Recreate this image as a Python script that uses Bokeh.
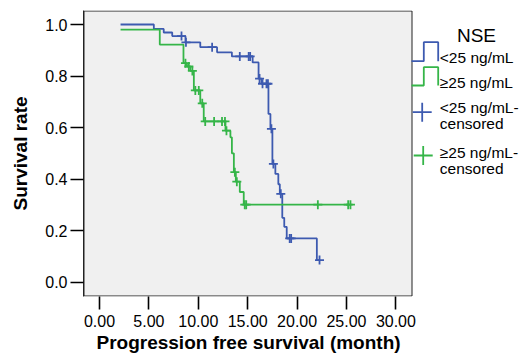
from bokeh.plotting import figure
from bokeh.models import Range1d, FixedTicker, NumeralTickFormatter, Title
from bokeh.core.properties import value
from bokeh.embed import file_html
from bokeh.resources import INLINE

# ---------------- data ----------------
nse_low_time = [2.13, 5.5, 6.5, 7.36, 8.7, 10.2, 11.9, 13.4, 15.5, 16.1, 16.4,
                17.1, 17.3, 17.5, 17.8, 18.1, 18.25, 18.5, 18.7, 18.95, 22.0, 22.27]
nse_low_surv = [1.0, 0.983, 0.969, 0.955, 0.931, 0.912, 0.892, 0.876, 0.853, 0.79, 0.77,
                0.653, 0.595, 0.459, 0.42, 0.38, 0.343, 0.25, 0.215, 0.17, 0.086, 0.086]
nse_low_cens_time = [8.3, 8.75, 11.4, 14.2, 15.1, 15.25, 16.2, 16.5, 16.9, 17.05,
                     17.4, 17.6, 18.35, 19.25, 19.4, 22.27]
nse_low_cens_surv = [0.955, 0.931, 0.912, 0.876, 0.876, 0.876, 0.79, 0.77, 0.77, 0.77,
                     0.595, 0.459, 0.343, 0.17, 0.17, 0.086]

nse_high_time = [2.13, 6.1, 8.5, 8.85, 9.2, 9.55, 10.2, 10.55, 12.75, 13.25, 13.4,
                 13.6, 13.8, 14.2, 14.6, 25.4]
nse_high_surv = [0.98, 0.922, 0.85, 0.837, 0.82, 0.744, 0.694, 0.624, 0.588, 0.562, 0.50,
                 0.427, 0.39, 0.35, 0.301, 0.301]
nse_high_cens_time = [8.7, 9.04, 9.4, 9.7, 10.05, 10.4, 10.7, 11.6, 12.4, 12.7, 12.85,
                      13.7, 13.9, 14.7, 14.85, 22.1, 25.17, 25.4]
nse_high_cens_surv = [0.85, 0.837, 0.82, 0.744, 0.744, 0.694, 0.624, 0.624, 0.624, 0.624, 0.588,
                      0.427, 0.39, 0.301, 0.301, 0.301, 0.301, 0.301]

x_ticks = [0, 5, 10, 15, 20, 25, 30]
y_ticks = [0.0, 0.2, 0.4, 0.6, 0.8, 1.0]

x_title = "Progression free survival (month)"
y_title = "Survival rate"
legend_title = "NSE"
legend_labels = ["<25 ng/mL", "≥25 ng/mL", "<25 ng/mL-", "censored", "≥25 ng/mL-", "censored"]

BLUE = "#3d5ab0"
GREEN = "#35b548"
FONT = value("Liberation Sans")

# pixel -> data helpers (layout only)
def px_x(px):
    return (px - 99.0) / 9.88

def px_y(py):
    return 1.0 - (py - 24.0) / 257.7

p = figure(
    x_range=Range1d(px_x(83), px_x(531)),
    y_range=Range1d(px_y(296), px_y(10)),
    frame_width=448, frame_height=286,
    min_border_left=83, min_border_right=0, min_border_top=10, min_border_bottom=60,
    output_backend="svg", toolbar_location=None,
)
p.background_fill_color = "white"
p.border_fill_color = "white"
p.outline_line_color = None
p.grid.visible = False

# plot frame (grey panel)
p.quad(left=[px_x(83.5)], right=[px_x(411.5)], top=[px_y(10.5)], bottom=[px_y(295.5)],
       fill_color="#f0f0f0", line_color="#222222", line_width=1)

# axes
for ax in (p.xaxis[0], p.yaxis[0]):
    ax.major_tick_out = 13
    ax.major_tick_in = 0
    ax.minor_tick_out = 0
    ax.minor_tick_in = 0
    ax.major_tick_line_color = "black"
    ax.major_tick_line_width = 1.6
    ax.major_label_text_font = "Liberation Sans"
    ax.major_label_text_font_size = "16px"
    ax.major_label_text_color = "black"
    ax.axis_label_text_font = "Liberation Sans"
    ax.axis_label_text_font_style = "bold"
    ax.axis_label_text_font_size = "19px"
    ax.axis_label_text_color = "black"

p.xaxis[0].ticker = FixedTicker(ticks=x_ticks)
p.xaxis[0].formatter = NumeralTickFormatter(format="0.00")
p.xaxis[0].axis_line_color = None
p.xaxis[0].major_label_standoff = 5

p.yaxis[0].ticker = FixedTicker(ticks=y_ticks)
p.yaxis[0].formatter = NumeralTickFormatter(format="0.0")
p.yaxis[0].axis_line_color = "#222222"
p.yaxis[0].major_label_standoff = 3
p.yaxis[0].axis_label = y_title
p.yaxis[0].axis_label_standoff = 11

# x-axis title, placed under the grey panel
p.add_layout(Title(text=x_title, align="left", offset=13, standoff=0,
                   text_font="Liberation Sans", text_font_style="bold",
                   text_font_size="19px", text_color="black"), "below")

# survival curves
p.step(x=nse_low_time, y=nse_low_surv, mode="after", line_color=BLUE, line_width=1.8)
p.step(x=nse_high_time, y=nse_high_surv, mode="after", line_color=GREEN, line_width=1.8)
p.scatter(x=nse_low_cens_time, y=nse_low_cens_surv, marker="cross", size=9,
          line_color=BLUE, line_width=1.8)
p.scatter(x=nse_high_cens_time, y=nse_high_cens_surv, marker="cross", size=9,
          line_color=GREEN, line_width=1.8)

# legend (drawn by hand to the right of the panel)
p.text(x=[px_x(476)], y=[px_y(35)], text=[legend_title], text_font=FONT,
       text_font_size="19px", text_align="center", text_baseline="alphabetic",
       text_color="black")
p.line(x=[px_x(411), px_x(423.3), px_x(423.3), px_x(437.7), px_x(437.7)],
       y=[px_y(60.7), px_y(60.7), px_y(41.7), px_y(41.7), px_y(60.7)],
       line_color=BLUE, line_width=1.8)
p.line(x=[px_x(411), px_x(423.3), px_x(423.3), px_x(437.7), px_x(437.7)],
       y=[px_y(85), px_y(85), px_y(66.7), px_y(66.7), px_y(85)],
       line_color=GREEN, line_width=1.8)
p.scatter(x=[px_x(421.7)], y=[px_y(111.7)], marker="cross", size=19,
          line_color=BLUE, line_width=1.8)
p.scatter(x=[px_x(422.7)], y=[px_y(155)], marker="cross", size=19,
          line_color=GREEN, line_width=1.8)
p.text(x=[px_x(439.3)] * 6,
       y=[px_y(57.3), px_y(81.7), px_y(106.7), px_y(123.3), px_y(151.7), px_y(168.3)],
       text=legend_labels, text_font=FONT, text_font_size="15.5px",
       text_align="left", text_baseline="alphabetic", text_color="black")

open("out.html", "w").write(file_html(p, INLINE))
